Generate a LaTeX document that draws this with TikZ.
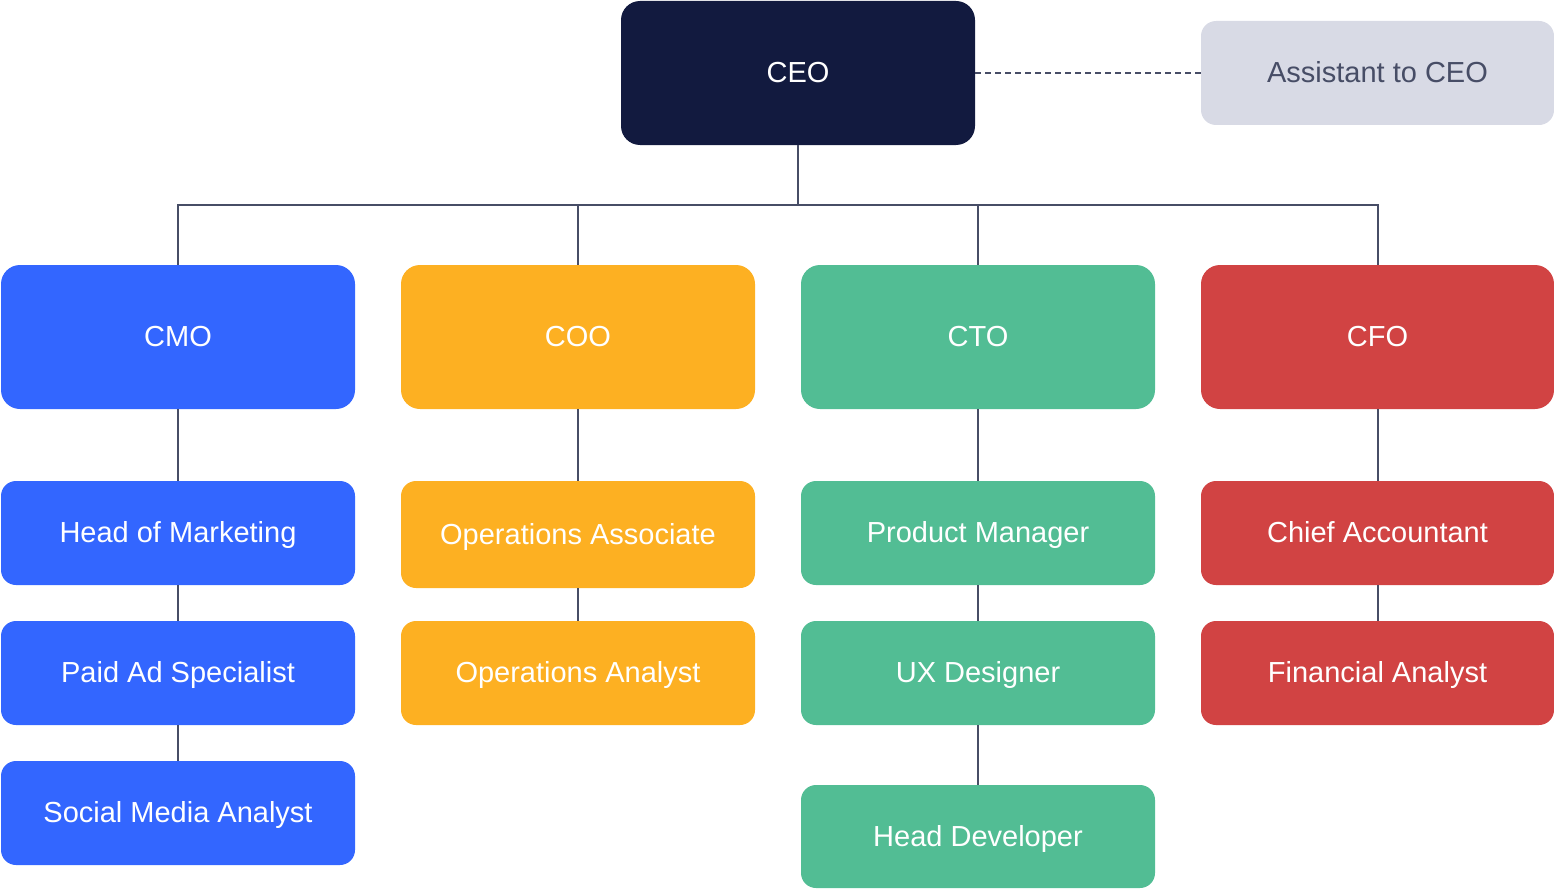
\documentclass[tikz,border=0pt]{standalone}
\usepackage{fontspec}
\setmainfont{Liberation Sans}
\definecolor{ceoc}{HTML}{121A3F}
\definecolor{asstc}{HTML}{D8DAE5}
\definecolor{assttxt}{HTML}{474D66}
\definecolor{bluec}{HTML}{3366FF}
\definecolor{orangec}{HTML}{FDB022}
\definecolor{greenc}{HTML}{52BD94}
\definecolor{redc}{HTML}{D14343}
\definecolor{linec}{HTML}{474D66}
\tikzset{
  box/.style={rectangle, rounded corners=15pt, minimum width=354pt, inner sep=0pt,
    text height=23pt, text depth=4pt,
    text=white, font=\fontsize{29}{34}\selectfont, anchor=center},
  bigbox/.style={box, rounded corners=19pt, minimum height=144pt},
  smallbox/.style={box, minimum height=104pt},
  conn/.style={draw=linec, line width=2pt},
}
\begin{document}
\begin{tikzpicture}[x=1pt,y=-1pt]
\useasboundingbox (0,0) rectangle (1554,888);
% top
\node[bigbox, fill=ceoc] (ceo) at (798,73) {CEO};
\node[smallbox, fill=asstc, text=assttxt, minimum width=353pt] (asst) at (1377.5,73) {Assistant to CEO};
% level 1
\node[bigbox, fill=bluec] (cmo) at (178,337) {CMO};
\node[bigbox, fill=orangec] (coo) at (578,337) {COO};
\node[bigbox, fill=greenc] (cto) at (978,337) {CTO};
\node[bigbox, fill=redc, minimum width=353pt] (cfo) at (1377.5,337) {CFO};
% level 2
\node[smallbox, fill=bluec] (hom) at (178,533) {Head of Marketing};
\node[smallbox, fill=orangec, minimum height=107pt] (opa) at (578,534.5) {Operations Associate};
\node[smallbox, fill=greenc] (pm) at (978,533) {Product Manager};
\node[smallbox, fill=redc, minimum width=353pt] (ca) at (1377.5,533) {Chief Accountant};
% level 3
\node[smallbox, fill=bluec] (pas) at (178,673) {Paid Ad Specialist};
\node[smallbox, fill=orangec] (opn) at (578,673) {Operations Analyst};
\node[smallbox, fill=greenc] (ux) at (978,673) {UX Designer};
\node[smallbox, fill=redc, minimum width=353pt] (fa) at (1377.5,673) {Financial Analyst};
% level 4
\node[smallbox, fill=bluec] (sma) at (178,813) {Social Media Analyst};
\node[smallbox, fill=greenc, minimum height=103pt] (hd) at (978,836.5) {Head Developer};
% connectors
\coordinate (bus) at (798,205);
\draw[conn, dash pattern=on 6pt off 4pt] (ceo.east) -- (asst.west);
\draw[conn] (ceo.south) -- (bus);
\draw[conn] (bus) -| (cmo.north);
\draw[conn] (bus) -| (coo.north);
\draw[conn] (bus) -| (cto.north);
\draw[conn] (bus) -| (cfo.north);
\draw[conn] (cmo.south) -- (hom.north);
\draw[conn] (hom.south) -- (pas.north);
\draw[conn] (pas.south) -- (sma.north);
\draw[conn] (coo.south) -- (opa.north);
\draw[conn] (opa.south) -- (opn.north);
\draw[conn] (cto.south) -- (pm.north);
\draw[conn] (pm.south) -- (ux.north);
\draw[conn] (ux.south) -- (hd.north);
\draw[conn] (cfo.south) -- (ca.north);
\draw[conn] (ca.south) -- (fa.north);
\end{tikzpicture}
\end{document}
